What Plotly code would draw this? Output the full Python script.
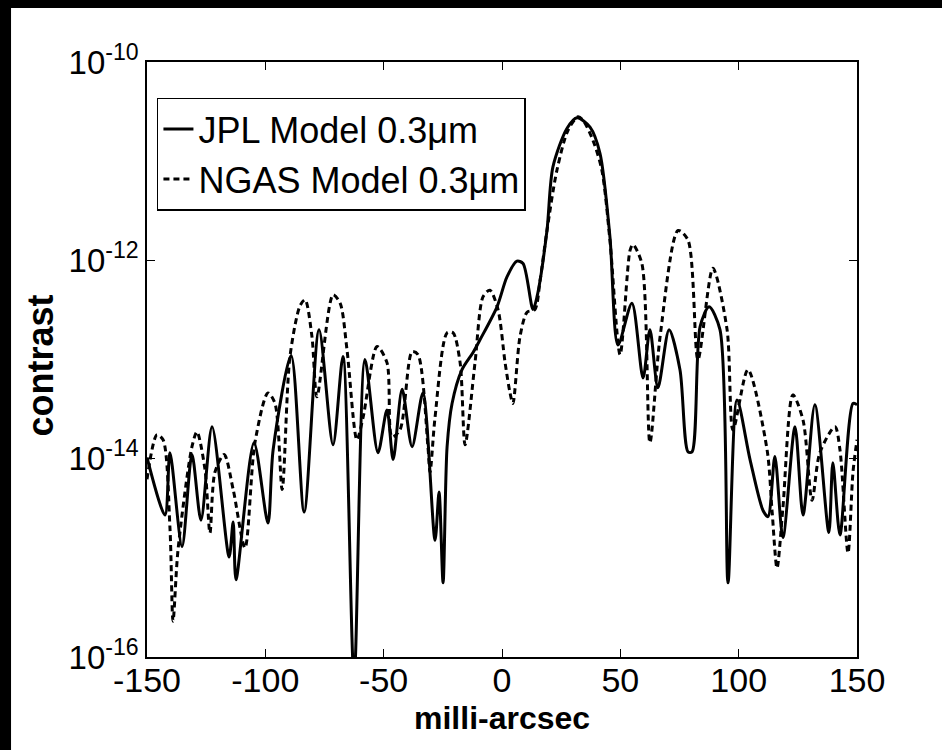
import plotly.graph_objects as go

# JPL Model (solid)
jpl_x = [-150.0, -142.4, -140.3, -135.2, -131.0, -127.2, -122.5, -115.3, -113.6, -112.4,
         -104.8, -98.9, -96.7, -89.1, -83.6, -77.3, -71.4, -67.2, -62.5, -57.9,
         -52.4, -48.6, -46.0, -42.2, -38.0, -33.4, -28.3, -26.6, -24.9, -23.2,
         -21.1, -16.9, -12.3, -9.3, -2.1, 2.1, 6.3, 8.9, 13.1, 14.8,
         19.0, 21.5, 27.5, 31.7, 37.2, 41.4, 45.6, 49.0, 54.9, 59.6,
         62.5, 65.9, 70.6, 75.2, 78.6, 80.3, 83.7, 87.5, 92.1, 95.5,
         99.3, 104.8, 110.3, 112.4, 115.3, 118.7, 123.8, 127.2, 132.2, 138.1,
         139.8, 142.8, 148.3, 150.0]
jpl_y = [1.03e-14, 2.7e-15, 1.15e-14, 1.3e-15, 1.1e-14, 2.4e-15, 2.1e-14, 1.02e-15, 2.3e-15, 6.0e-16,
         1.45e-14, 2.24e-15, 1.23e-14, 1.1e-13, 2.9e-15, 2.0e-13, 1.38e-14, 1.07e-13, 6e-17, 1.0e-13,
         1.15e-14, 3.1e-14, 9.8e-15, 5.0e-14, 1.32e-14, 4.6e-14, 1.5e-15, 4.6e-15, 5.6e-16, 1.32e-14,
         3.6e-14, 7.9e-14, 1.17e-13, 1.58e-13, 3.4e-13, 6.8e-13, 9.8e-13, 9.3e-13, 3.2e-13, 4.3e-13,
         2.0e-12, 8.7e-12, 2.15e-11, 2.74e-11, 2.2e-11, 1.2e-11, 1.73e-12, 1.4e-13, 3.7e-13, 6.5e-14,
         2.0e-13, 5.2e-14, 2.0e-13, 7.9e-14, 1.17e-14, 1.17e-14, 2.15e-13, 3.4e-13, 2.0e-13, 5.6e-16,
         3.9e-14, 9.8e-15, 3.0e-15, 2.6e-15, 1.05e-14, 1.6e-15, 2.1e-14, 2.7e-15, 3.5e-14, 1.8e-15,
         9.1e-15, 1.7e-15, 3.6e-14, 3.5e-14]

# NGAS Model (dashed)
ngas_x = [-150.0, -145.8, -143.2, -140.3, -139.0, -136.9, -131.0, -128.9, -125.5, -123.4,
          -121.3, -117.4, -113.6, -108.6, -104.4, -98.9, -95.9, -92.9, -89.6, -85.3,
          -83.2, -80.3, -78.2, -71.4, -68.4, -65.5, -61.3, -58.7, -52.8, -48.6,
          -46.5, -43.1, -38.0, -35.5, -31.3, -30.4, -28.3, -23.2, -20.7, -17.7,
          -15.6, -11.4, -8.0, -5.1, -1.7, 1.3, 3.4, 4.6, 7.6, 10.6,
          13.9, 16.1, 19.0, 23.2, 27.9, 32.1, 34.2, 38.4, 42.2, 45.6,
          49.9, 54.1, 55.3, 59.1, 62.5, 66.8, 74.4, 78.6, 82.8, 89.1,
          95.1, 97.6, 103.9, 112.0, 114.1, 116.2, 118.7, 122.9, 127.2, 131.0,
          134.3, 140.7, 142.8, 146.2, 148.3, 150.0]
ngas_y = [6.2e-15, 1.74e-14, 1.55e-14, 2.0e-15, 2.3e-16, 1.2e-15, 1.32e-14, 1.86e-14, 7.8e-15, 1.78e-15,
          7.3e-15, 1.1e-14, 4.9e-15, 1.26e-15, 1.45e-14, 4.6e-14, 3.6e-14, 4.9e-15, 1.07e-13, 3.5e-13,
          4.0e-13, 1.7e-13, 4.2e-14, 4.5e-13, 3.7e-13, 1.26e-13, 1.55e-14, 2.6e-14, 1.35e-13, 9.3e-14,
          1.66e-14, 1.95e-14, 1.2e-13, 1.12e-13, 1.32e-14, 7.3e-15, 2.6e-14, 1.86e-13, 1.86e-13, 9.3e-14,
          1.38e-14, 9.3e-14, 4.3e-13, 5.0e-13, 3.2e-13, 9.3e-14, 4.6e-14, 3.6e-14, 1.7e-13, 3.0e-13,
          3.2e-13, 6.3e-13, 2.0e-12, 8.1e-12, 2.05e-11, 2.8e-11, 2.6e-11, 1.63e-11, 8.1e-12, 1.6e-12,
          1.12e-13, 1.26e-12, 1.44e-12, 9.3e-13, 1.45e-14, 1.7e-13, 2.0e-12, 1.6e-12, 1.0e-13, 8.3e-13,
          2.0e-13, 1.95e-14, 7.9e-14, 1.23e-14, 3.0e-15, 7.9e-16, 3.2e-15, 4.4e-14, 2.45e-14, 3.8e-15,
          1.15e-14, 2.1e-14, 1.23e-14, 1.12e-15, 7.3e-15, 1.55e-14]

x_ticks = [-150, -100, -50, 0, 50, 100, 150]
x_ticktext = ["-150", "-100", "-50", "0", "50", "100", "150"]
y_ticks = [1e-16, 1e-14, 1e-12, 1e-10]
y_ticktext = ["10<sup>-16</sup>", "10<sup>-14</sup>", "10<sup>-12</sup>", "10<sup>-10</sup>"]

FONT = "Liberation Sans, Arial, sans-serif"

fig = go.Figure()
fig.add_trace(go.Scatter(x=jpl_x, y=jpl_y, mode="lines", name="JPL Model 0.3μm",
                         line=dict(color="black", width=3, shape="spline", smoothing=0.8)))
fig.add_trace(go.Scatter(x=ngas_x, y=ngas_y, mode="lines", name="NGAS Model 0.3μm",
                         line=dict(color="black", width=3, dash="6px,4px", shape="spline", smoothing=0.8)))

fig.update_layout(
    width=942, height=750,
    margin=dict(l=147, r=85, t=62, b=93),
    paper_bgcolor="white", plot_bgcolor="white",
    font=dict(family=FONT, color="black", size=32),
    showlegend=True,
    legend=dict(x=0.014, y=0.94, xanchor="left", yanchor="top",
                bgcolor="white", bordercolor="black", borderwidth=1.5,
                font=dict(size=36, family=FONT), tracegroupgap=0, itemwidth=30),
    xaxis=dict(range=[-150, 150], tickvals=x_ticks, ticktext=x_ticktext, ticks="inside", ticklen=8,
               tickwidth=1, tickcolor="black", showline=True, linecolor="black",
               linewidth=1.5, mirror="ticks", showgrid=False, zeroline=False,
               tickfont=dict(size=34, family=FONT), ticklabelstandoff=-8),
    yaxis=dict(type="log", range=[-16, -10], tickvals=y_ticks, ticktext=y_ticktext,
               ticks="inside", ticklen=8, tickwidth=1, tickcolor="black",
               showline=True, linecolor="black", linewidth=1.5, mirror="ticks",
               showgrid=False, zeroline=False, tickfont=dict(size=33, family=FONT)),
    annotations=[
        dict(text="<b>milli-arcsec</b>", xref="paper", yref="paper", x=0.5, y=-0.1025,
             xanchor="center", yanchor="middle", showarrow=False,
             font=dict(size=32, family=FONT)),
        dict(text="<b>contrast</b>", xref="paper", yref="paper", x=-0.1507, y=0.49,
             xanchor="center", yanchor="middle", showarrow=False, textangle=-90,
             font=dict(size=36, family=FONT)),
    ],
    shapes=[
        dict(type="rect", xref="paper", yref="paper", x0=-0.22, x1=1.13, y0=1.0908, y1=1.11,
             fillcolor="black", line=dict(width=0), layer="above"),
        dict(type="rect", xref="paper", yref="paper", x0=-0.21, x1=-0.1915, y0=-0.16, y1=1.11,
             fillcolor="black", line=dict(width=0), layer="above"),
    ],
)

fig.write_html("out.html")
